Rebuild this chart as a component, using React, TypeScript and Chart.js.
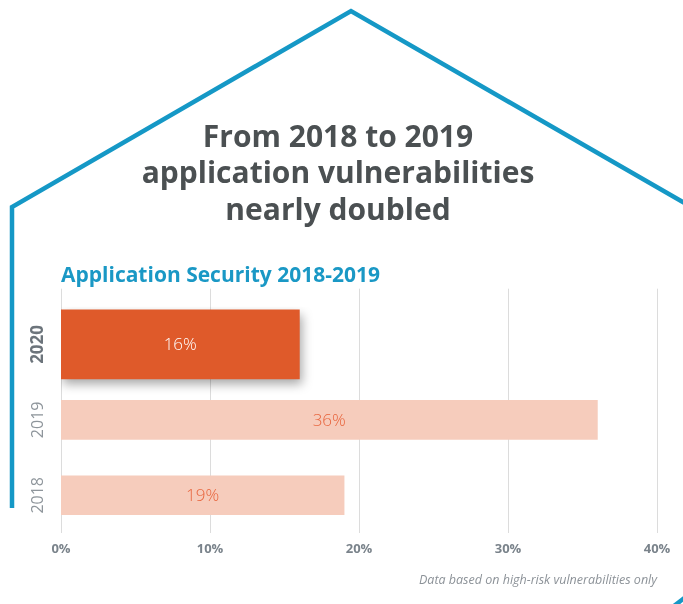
import React, { useEffect, useRef } from "react";
import { Chart, registerables } from "chart.js";

Chart.register(...registerables);

// ---- data ----
const years = ["2020", "2019", "2018"];
const values = [16, 36, 19];
const highlight = [true, false, false];
const xTickValues = [0, 10, 20, 30, 40];
const titleLines = ["From 2018 to 2019", "application vulnerabilities", "nearly doubled"];
const subtitleText = "Application Security 2018-2019";
const footnote = "Data based on high-risk vulnerabilities only";

const FONT = "'Open Sans', 'DejaVu Sans', sans-serif";
const GRID = "#dcdcdc";

const barLabels = {
  id: "barLabels",
  afterDatasetsDraw(chart: any) {
    const ctx = chart.ctx;
    chart.data.datasets.forEach((ds: any, di: number) => {
      const meta = chart.getDatasetMeta(di);
      meta.data.forEach((bar: any, i: number) => {
        const v = ds.data[i];
        if (v == null) return;
        const p = bar.getProps(["x", "y", "base"], true);
        ctx.save();
        ctx.font = `300 17px ${FONT}`;
        ctx.fillStyle = highlight[i] ? "#ffffff" : "#e8643c";
        ctx.textAlign = "center";
        ctx.textBaseline = "middle";
        ctx.fillText(v + "%", (p.x + p.base) / 2, p.y + 1);
        ctx.restore();
      });
    });
  },
};

const barShadow = {
  id: "barShadow",
  beforeDatasetDraw(chart: any, args: any) {
    if (args.index === 0) {
      const c = chart.ctx;
      c.save();
      c.shadowColor = "rgba(0,0,0,0.35)";
      c.shadowBlur = 10;
      c.shadowOffsetX = 2;
      c.shadowOffsetY = 5;
    }
  },
  afterDatasetDraw(chart: any, args: any) {
    if (args.index === 0) chart.ctx.restore();
  },
};

export default function App() {
  const ref = useRef<HTMLCanvasElement | null>(null);

  useEffect(() => {
    if (!ref.current) return;
    const setTicks = (scale: any) => {
      scale.ticks = xTickValues.map((v) => ({ value: v }));
    };
    const chart = new Chart(ref.current, {
      type: "bar",
      data: {
        labels: years,
        datasets: [
          {
            label: "highlight",
            data: values.map((v, i) => (highlight[i] ? v : null)),
            backgroundColor: "#df5a2a",
            barThickness: 69,
            grouped: false,
          } as any,
          {
            label: "others",
            data: values.map((v, i) => (highlight[i] ? null : v)),
            backgroundColor: "#f6ccbc",
            barThickness: 39,
            grouped: false,
          } as any,
        ],
      },
      options: {
        indexAxis: "y",
        responsive: false,
        animation: false,
        layout: { padding: { left: 19, right: 26, top: 0, bottom: 7 } },
        plugins: {
          legend: { display: false },
          tooltip: { enabled: false },
          title: {
            display: true,
            text: titleLines,
            color: "#4b5052",
            font: { family: FONT, size: 30, weight: "bold", lineHeight: "36.5px" } as any,
            padding: { top: 120, bottom: 0 },
          },
          subtitle: {
            display: true,
            text: subtitleText,
            align: "start",
            fullSize: false,
            color: "#1a98c5",
            font: { family: FONT, size: 21, weight: "bold", lineHeight: 1.2 },
            padding: { top: 34, bottom: 0 },
          } as any,
        },
        scales: {
          x: {
            type: "linear",
            position: "bottom",
            min: 0,
            max: 40,
            afterBuildTicks: setTicks,
            grid: { display: false, drawTicks: false },
            border: { display: false },
            ticks: {
              callback: (v: any) => v + "%",
              color: "#7a838b",
              font: { family: FONT, size: 13, weight: "bold" },
              padding: 8,
            },
            title: {
              display: true,
              text: footnote,
              align: "end",
              color: "#8c9298",
              font: { family: FONT, size: 12.5, style: "italic", lineHeight: 1.2 },
              padding: { top: 8, bottom: 9.4 },
            },
          },
          x2: {
            type: "linear",
            position: "top",
            min: 0,
            max: 40,
            afterBuildTicks: setTicks,
            grid: { color: GRID, lineWidth: 1, drawTicks: true, tickLength: 18 },
            border: { display: false },
            ticks: { display: false },
          },
          y: {
            type: "category",
            offset: true,
            grid: { display: false, drawTicks: false },
            border: { display: false },
            afterFit: (s: any) => {
              s.width = 42;
            },
            ticks: {
              minRotation: 90,
              maxRotation: 90,
              crossAlign: "center",
              padding: 3,
              color: (c: any) => (c.index === 0 ? "#6c747b" : "#8e959b"),
              font: (c: any) =>
                c.index === 0
                  ? { family: FONT, size: 17, weight: "bold" }
                  : { family: FONT, size: 16, weight: "normal" },
            },
          } as any,
        },
      } as any,
      plugins: [barShadow, barLabels],
    });
    return () => chart.destroy();
  }, []);

  return (
    <div
      style={{
        position: "absolute",
        left: 0,
        top: 0,
        width: 683,
        height: 604,
        background: "#ffffff",
        overflow: "hidden",
      }}
    >
      <svg
        width={683}
        height={604}
        style={{ position: "absolute", left: 0, top: 0 }}
      >
        <polyline
          points="12,508 12,207 351,11 700,212"
          fill="none"
          stroke="#1598c6"
          strokeWidth={4.5}
          strokeLinejoin="miter"
        />
        <path d="M674,606 L692,592" stroke="#1598c6" strokeWidth={4.5} fill="none" />
      </svg>
      <canvas
        ref={ref}
        width={683}
        height={604}
        style={{ position: "absolute", left: 0, top: 0, display: "block" }}
      />
    </div>
  );
}
